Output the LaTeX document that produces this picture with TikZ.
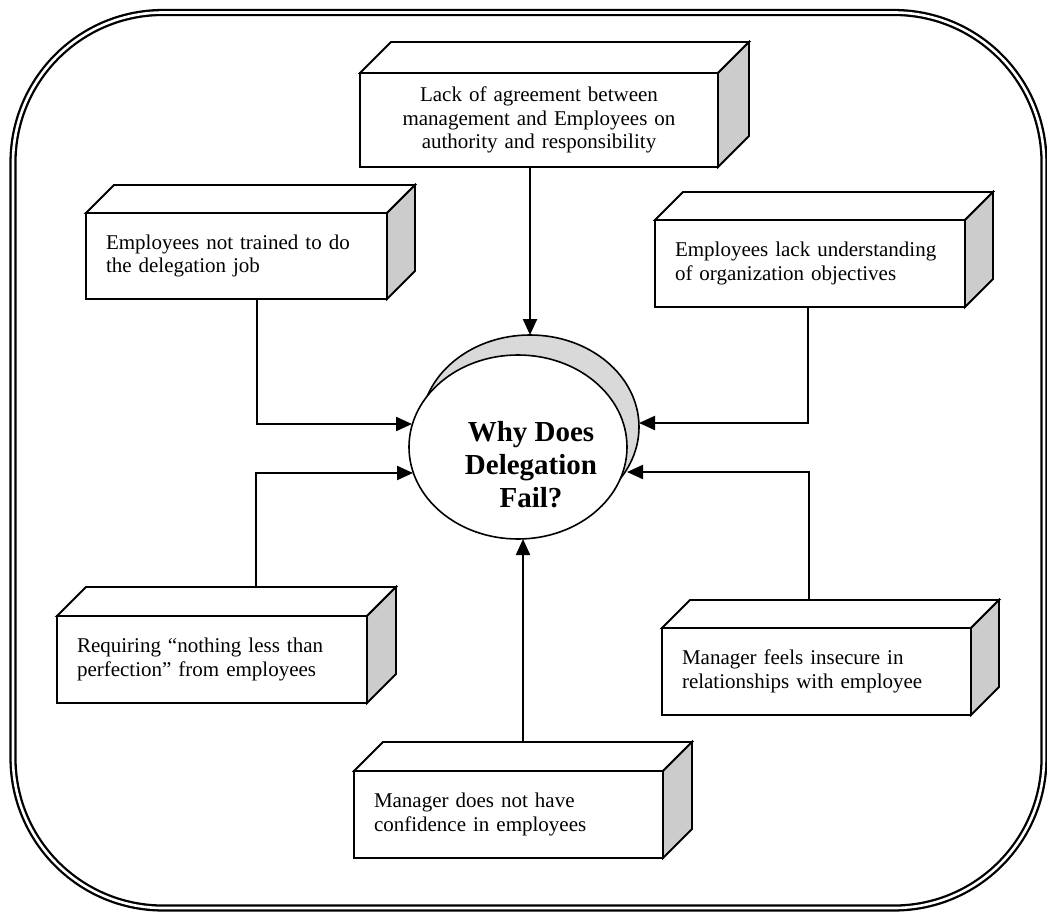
\documentclass[tikz,border=0pt]{standalone}
\usepackage{fontspec}
\setmainfont{Liberation Serif}
\usetikzlibrary{arrows.meta,shapes.geometric,backgrounds,calc}

\tikzset{
  boxfront/.style={draw, fill=white, line width=1.8pt, inner xsep=20pt, inner ysep=0pt,
    outer sep=0pt, font=\fontsize{21}{23.5}\selectfont, align=left},
  boxtop/.style={draw, fill=white, line width=1.8pt, line join=miter},
  boxside/.style={draw, fill=gray!40, line width=1.8pt, line join=miter},
  arr/.style={line width=2.2pt, -{Triangle[length=16pt,width=14pt]}},
  frame/.style={draw, line width=2.3pt, double, double distance=2.6pt, rounded corners=150pt},
  oval/.style={ellipse, draw, line width=1.6pt, minimum width=218pt, minimum height=184pt,
    inner sep=0pt, outer sep=0pt},
  title/.style={font=\fontsize{29}{33}\selectfont\bfseries, align=center},
}

% \cuboid[options]{name}{centre x}{centre y}{width}{height}{depth}{text}
\newcommand\cuboid[8][]{%
  \pgfmathsetmacro\cubtw{#5-40}%
  \node[boxfront, minimum width=#5pt, minimum height=#6pt, text width=\cubtw pt, #1] (#2) at (#3,#4) {#8};
  \draw[boxtop] (#2.north west) -- ++(#7,-#7) -- ++(#5,0) -- (#2.north east) -- cycle;
  \draw[boxside] (#2.north east) -- ++(#7,-#7) -- ++(0,#6) -- (#2.south east) -- cycle;
}

\begin{document}
\begin{tikzpicture}[x=1pt,y=-1pt]
\useasboundingbox (0,0) rectangle (1047,912);

% outer double frame
\draw[frame] (13,12.5) rectangle (1044,908);

% central question with its shadow
\node[oval, fill=gray!30] (S) at (530,427) {};
\node[oval, fill=white] (F) at (518,447) {};
\node[title] (Q) at (531,465) {Why Does\\Delegation\\Fail?};

% causes
\cuboid[align=center]{T}{539}{120}{358}{94}{31}{Lack of agreement between\\management and Employees on\\authority and responsibility}
\cuboid{L1}{236.5}{256}{301}{86}{28}{Employees not trained to do\\the delegation job}
\cuboid{R1}{810}{263.5}{310}{87}{28}{Employees lack understanding\\of organization objectives}
\cuboid{L2}{212}{659.5}{310}{87}{29}{Requiring \textquotedblleft nothing less than\\perfection\textquotedblright{} from employees}
\cuboid{R2}{816.5}{671.5}{309}{87}{28}{Manager feels insecure in\\relationships with employee}
\cuboid{B}{508.5}{814.5}{309}{87}{29}{Manager does not have\\confidence in employees}

% bend and end points of the connectors
\coordinate (k1) at (257,424);
\coordinate (e1) at (412,424);
\coordinate (k2) at (256,473);
\coordinate (e2) at (413,473);
\coordinate (k3) at (808,423);
\coordinate (k4) at (809,472);
\coordinate (e4) at (627,472);
\coordinate (k5) at (523,742);

\begin{scope}[on background layer]
  \draw[arr] (T.south -| S.north) -- (S.north);
  \draw[arr] (L1.south -| k1) -- (k1) -- (e1);
  \draw[arr] (L2.north -| k2) -- (k2) -- (e2);
  \draw[arr] (R1.south -| k3) -- (k3) -- (S.east |- k3);
  \draw[arr] (R2.north -| k4) -- (k4) -- (e4);
  \draw[arr] (B.north -| k5) -- (F.south -| k5);
\end{scope}
\end{tikzpicture}
\end{document}
